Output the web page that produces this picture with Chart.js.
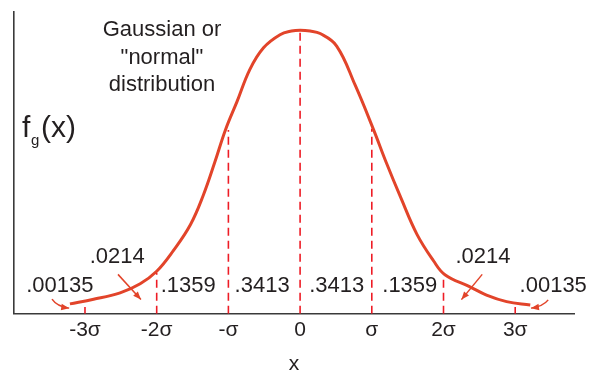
<!DOCTYPE html>
<html>
<head>
<meta charset="utf-8">
<script src="https://cdn.jsdelivr.net/npm/chart.js@4"></script>
<style>
  html, body { margin: 0; padding: 0; background: #fff; }
</style>
</head>
<body>
<canvas id="grafico" width="602" height="373"></canvas>
<script>
// Curve: x in sigma units, height relative to the peak
const curvaX = [-3.21, -2.88, -2.51, -2.23, -2.0, -1.77, -1.53, -1.35, -1.19, -1.04, -0.88, -0.70, -0.51, -0.28, -0.12, 0,
                0.14, 0.28, 0.51, 0.77, 1.02, 1.21, 1.40, 1.63, 1.86, 2.02, 2.37, 2.60, 2.88, 3.21];
const curvaY = [0.035, 0.051, 0.074, 0.106, 0.150, 0.222, 0.314, 0.418, 0.534, 0.649, 0.748, 0.862, 0.938, 0.984, 0.997, 1.0,
                0.997, 0.988, 0.944, 0.805, 0.652, 0.528, 0.412, 0.280, 0.187, 0.138, 0.095, 0.066, 0.043, 0.031];

// dashed lines from the axis up to the curve
const divisoesX = [-2, -1, 0, 1, 2];
const divisoesY = [0.145, 0.648, 1.0, 0.652, 0.138];

// short solid marks at +-3 sigma
const marcasX = [-3, 3];
const marcasY = [0.024, 0.024];

const ticksX = [-3, -2, -1, 0, 1, 2, 3];
const ticksTexto = ["-3σ", "-2σ", "-σ", "0", "σ", "2σ", "3σ"];

// area fractions written under the curve
const areas = [".00135", ".0214", ".1359", ".3413", ".3413", ".1359", ".0214", ".00135"];

const titulo = ["Gaussian or", "\"normal\"", "distribution"];

// where the area labels sit (data units)
const areasPos = [[-3.35, 0.097], [-2.55, 0.201], [-1.56, 0.097], [-0.53, 0.097],
                  [0.51, 0.097], [1.53, 0.097], [2.55, 0.201], [3.53, 0.097]];

// arrows: start, (control), end in data units
const setas = [
    { de: [-3.46, 0.052], ctrl: [-3.39, 0.026], ate: [-3.22, 0.020] },
    { de: [-2.54, 0.139], ate: [-2.22, 0.050] },
    { de: [2.54, 0.139], ate: [2.25, 0.050] },
    { de: [3.46, 0.049], ctrl: [3.39, 0.026], ate: [3.22, 0.020] }
];

const vermelho = "rgb(226, 68, 42)";
const tracejado = "rgb(238, 28, 37)";
const texto = "#231f20";
const fonte = "'Liberation Sans', Arial, sans-serif";

const datasets = [{
    data: curvaX.map((x, i) => ({ x: x, y: curvaY[i] })),
    borderColor: vermelho,
    borderWidth: 3,
    showLine: true,
    pointRadius: 0,
    tension: 0.4
}];
divisoesX.forEach((x, i) => {
    datasets.push({
        data: [{ x: x, y: 0 }, { x: x, y: divisoesY[i] }],
        borderColor: tracejado,
        borderWidth: 1.6,
        borderDash: [8, 5],
        showLine: true,
        pointRadius: 0
    });
});
marcasX.forEach((x, i) => {
    datasets.push({
        data: [{ x: x, y: 0 }, { x: x, y: marcasY[i] }],
        borderColor: tracejado,
        borderWidth: 1.6,
        showLine: true,
        pointRadius: 0
    });
});

function ponta(ctx, x0, y0, x1, y1) {
    const ang = Math.atan2(y1 - y0, x1 - x0);
    const L = 8, W = 3.2;
    ctx.beginPath();
    ctx.moveTo(x1, y1);
    ctx.lineTo(x1 - L * Math.cos(ang) + W * Math.sin(ang), y1 - L * Math.sin(ang) - W * Math.cos(ang));
    ctx.lineTo(x1 - L * Math.cos(ang) - W * Math.sin(ang), y1 - L * Math.sin(ang) + W * Math.cos(ang));
    ctx.closePath();
    ctx.fill();
}

const anotacoes = {
    id: "anotacoes",
    afterDatasetsDraw(chart) {
        const ctx = chart.ctx;
        const sx = chart.scales.x, sy = chart.scales.y;
        const px = v => sx.getPixelForValue(v);
        const py = v => sy.getPixelForValue(v);
        ctx.save();

        // area labels
        ctx.fillStyle = texto;
        ctx.font = "22px " + fonte;
        ctx.textAlign = "center";
        ctx.textBaseline = "middle";
        areas.forEach((t, i) => ctx.fillText(t, px(areasPos[i][0]), py(areasPos[i][1])));

        // title
        ctx.font = "22px " + fonte;
        ctx.textBaseline = "alphabetic";
        const bases = [36, 63.5, 91];
        titulo.forEach((t, i) => ctx.fillText(t, 162, bases[i]));

        // f_g(x)
        ctx.textAlign = "left";
        ctx.font = "30px " + fonte;
        ctx.fillText("f", 22, 137);
        ctx.font = "15px " + fonte;
        ctx.fillText("g", 31, 145);
        ctx.font = "30px " + fonte;
        ctx.fillText("(x)", 41, 137);

        // arrows
        ctx.strokeStyle = vermelho;
        ctx.fillStyle = vermelho;
        ctx.lineWidth = 1.5;
        setas.forEach(s => {
            const x0 = px(s.de[0]), y0 = py(s.de[1]);
            const x1 = px(s.ate[0]), y1 = py(s.ate[1]);
            ctx.beginPath();
            ctx.moveTo(x0, y0);
            let ax = x0, ay = y0;
            if (s.ctrl) {
                ax = px(s.ctrl[0]); ay = py(s.ctrl[1]);
                ctx.quadraticCurveTo(ax, ay, x1, y1);
            } else {
                ctx.lineTo(x1, y1);
            }
            ctx.stroke();
            ponta(ctx, ax, ay, x1, y1);
        });
        ctx.restore();
    }
};

new Chart(document.getElementById("grafico"), {
    type: "scatter",
    data: { datasets: datasets },
    options: {
        responsive: false,
        animation: false,
        devicePixelRatio: 1,
        layout: { padding: { left: 14, top: 12, right: 28, bottom: 0 } },
        plugins: { legend: { display: false }, tooltip: { enabled: false } },
        scales: {
            x: {
                type: "linear",
                min: -3.99,
                max: 3.82,
                grid: { display: false, drawTicks: false },
                border: { display: true, color: "#3a3a3a", width: 1.6 },
                afterBuildTicks: s => { s.ticks = ticksX.map(v => ({ value: v })); },
                ticks: {
                    padding: 4,
                    color: texto,
                    font: { family: fonte, size: 21 },
                    callback: (v) => ticksTexto[ticksX.indexOf(v)]
                },
                title: {
                    display: true,
                    text: "x",
                    color: texto,
                    font: { family: fonte, size: 21, lineHeight: 0.8 },
                    padding: { top: 9.2, bottom: 0 }
                }
            },
            y: {
                min: 0,
                max: 1.064,
                grid: { display: false, drawTicks: false },
                border: { display: true, color: "#3a3a3a", width: 1.6 },
                ticks: { display: false }
            }
        }
    },
    plugins: [anotacoes]
});
</script>
</body>
</html>
